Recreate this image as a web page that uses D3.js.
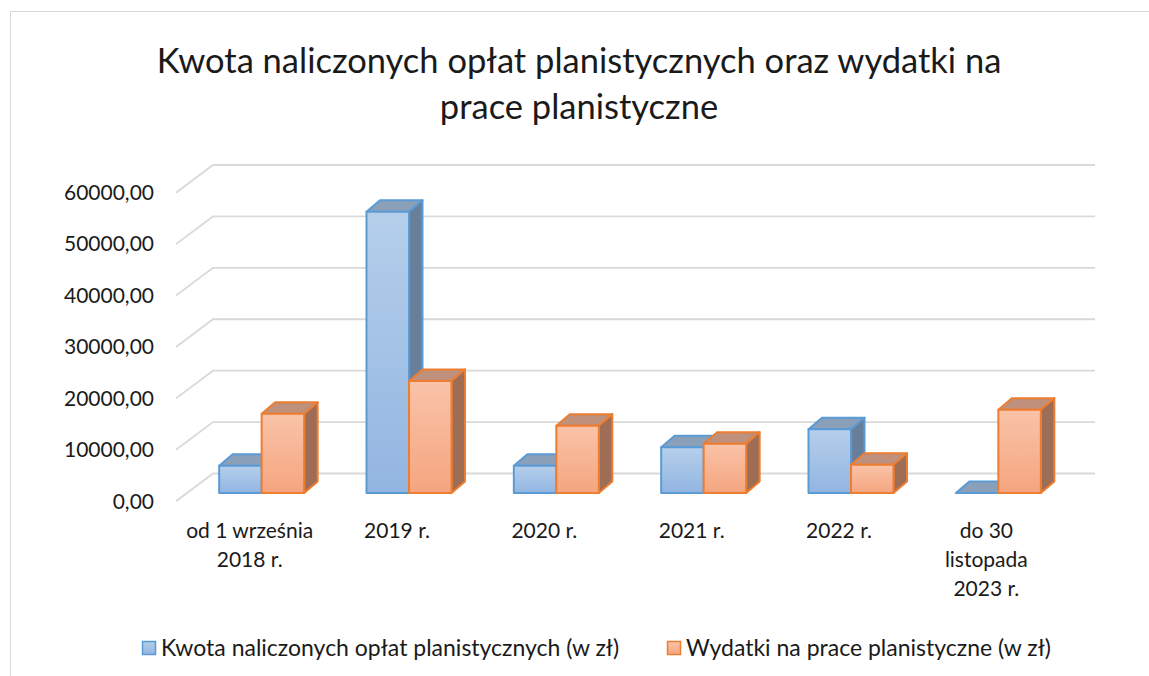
<!DOCTYPE html>
<html lang="pl">
    <head>
        <meta charset="UTF-8" />
        <title>Opłaty planistyczne</title>
        <script src="https://d3js.org/d3.v7.js"></script>
    </head>

    <body>
        <div id="dataviz"></div>
    </body>

    <script>
        // data
        const categories = ["od 1 września 2018 r.", "2019 r.", "2020 r.", "2021 r.", "2022 r.", "do 30 listopada 2023 r."];
        const categoryLines = [["od 1 września", "2018 r."], ["2019 r."], ["2020 r."], ["2021 r."], ["2022 r."], ["do 30", "listopada", "2023 r."]];
        const seriesNames = ["Kwota naliczonych opłat planistycznych (w zł)", "Wydatki na prace planistyczne (w zł)"];
        const kwota = [5300, 54700, 5300, 8900, 12400, 0];
        const wydatki = [15400, 21800, 13100, 9600, 5500, 16200];
        const yTicks = [0, 10000, 20000, 30000, 40000, 50000, 60000];

        const width = 1149, height = 676;
        const font = "Lato, 'Open Sans', sans-serif";

        const svg = d3.select("#dataviz")
            .append("svg")
            .attr("width", width)
            .attr("height", height);

        // outer frame of the chart area
        svg.append("rect")
            .attr("x", 10.5).attr("y", 11.5)
            .attr("width", 1200).attr("height", 700)
            .attr("fill", "white")
            .attr("stroke", "#d9d9d9");

        const defs = svg.append("defs");
        const colors = [
            {front: ["#b5cfeb", "#92b5e1"], stroke: "#5b9bd5", top: "#8a9fb8", side: "#687f9b"},
            {front: ["#f9c3a8", "#f5a57f"], stroke: "#ed7d31", top: "#bf917d", side: "#9d6d56"}
        ];
        colors.forEach((c, i) => {
            const g = defs.append("linearGradient")
                .attr("id", "grad" + i)
                .attr("x1", 0).attr("y1", 0).attr("x2", 0).attr("y2", 1);
            g.append("stop").attr("offset", "0%").attr("stop-color", c.front[0]);
            g.append("stop").attr("offset", "100%").attr("stop-color", c.front[1]);
        });

        // 3d geometry: back wall and bar plane
        const wallDx = 37, wallDy = 27.7;
        const barDx = 13.5, barDy = 11.5;

        const yBack = d3.scaleLinear().domain([0, 60000]).range([473.5, 165]);
        const yBar = d3.scaleLinear().domain([0, 60000]).range([493, 184.5]);

        const x0 = d3.scaleBand()
            .domain(categories)
            .range([188, 1072]);
        const x1 = d3.scaleBand()
            .domain([0, 1])
            .range([0, 85]);
        const groupOffset = (x0.bandwidth() - 85) / 2;

        const fmt = d3.formatLocale({decimal: ",", thousands: "", grouping: [3], currency: ["", " zł"]}).format(".2f");

        // gridlines: side wall diagonal + back wall
        svg.append("g")
            .selectAll("path")
            .data(yTicks)
            .join("path")
            .attr("d", d => `M176,${yBack(d) + wallDy} L${176 + wallDx},${yBack(d)} L1095,${yBack(d)}`)
            .attr("fill", "none")
            .attr("stroke", "#d9d9d9")
            .attr("stroke-width", 1.8);

        // y labels
        svg.append("g")
            .selectAll("text")
            .data(yTicks)
            .join("text")
            .attr("x", 154)
            .attr("y", d => yBack(d) + wallDy + 2)
            .attr("text-anchor", "end")
            .attr("dominant-baseline", "middle")
            .style("font-family", font)
            .style("font-size", "21px")
            .attr("fill", "#1a1a1a")
            .text(d => fmt(d));

        // bars
        const bars = [];
        categories.forEach((c, i) => {
            [kwota[i], wydatki[i]].forEach((v, s) => bars.push({cat: c, s: s, v: v}));
        });

        const barG = svg.append("g");
        bars.forEach(b => {
            const xl = x0(b.cat) + groupOffset + x1(b.s);
            const xr = xl + x1.bandwidth();
            const yt = yBar(b.v), yb = yBar(0);
            const c = colors[b.s];
            const g = barG.append("g")
                .attr("stroke", c.stroke)
                .attr("stroke-width", 2)
                .attr("stroke-linejoin", "round");
            g.append("path")
                .attr("d", `M${xl},${yt} L${xl + barDx},${yt - barDy} L${xr + barDx},${yt - barDy} L${xr},${yt} Z`)
                .attr("fill", c.top);
            g.append("path")
                .attr("d", `M${xr},${yt} L${xr + barDx},${yt - barDy} L${xr + barDx},${yb - barDy} L${xr},${yb} Z`)
                .attr("fill", c.side);
            if (b.v > 0) {
                g.append("rect")
                    .attr("x", xl).attr("y", yt)
                    .attr("width", xr - xl).attr("height", yb - yt)
                    .attr("fill", `url(#grad${b.s})`);
            }
        });

        // category labels
        const labelShift = -12;
        svg.append("g")
            .selectAll("text")
            .data(categories)
            .join("text")
            .attr("text-anchor", "middle")
            .style("font-family", font)
            .style("font-size", "21px")
            .attr("fill", "#1a1a1a")
            .each(function(d, i) {
                d3.select(this).selectAll("tspan")
                    .data(categoryLines[i])
                    .join("tspan")
                    .attr("x", x0(d) + x0.bandwidth() / 2 + labelShift)
                    .attr("y", (t, j) => 538 + j * 29)
                    .text(t => t);
            });

        // title
        svg.append("text")
            .attr("text-anchor", "middle")
            .style("font-family", font)
            .style("font-size", "34.5px")
            .attr("fill", "#1a1a1a")
            .selectAll("tspan")
            .data(["Kwota naliczonych opłat planistycznych oraz wydatki na", "prace planistyczne"])
            .join("tspan")
            .attr("x", 579)
            .attr("y", (d, i) => 73 + i * 46)
            .text(d => d);

        // legend
        const legendX = [142, 667];
        const legend = svg.append("g")
            .selectAll("g")
            .data(seriesNames)
            .join("g")
            .attr("transform", (d, i) => `translate(${legendX[i]},641)`);
        legend.append("rect")
            .attr("x", 0.5).attr("y", 0.5)
            .attr("width", 13).attr("height", 13)
            .attr("fill", (d, i) => `url(#grad${i})`)
            .attr("stroke", (d, i) => colors[i].stroke)
            .attr("stroke-width", 1.5);
        legend.append("text")
            .attr("x", 19)
            .attr("y", 14.5)
            .style("font-family", font)
            .style("font-size", "23px")
            .attr("fill", "#1a1a1a")
            .text(d => d);
    </script>

    <style>
        body {
            margin: 0;
        }

        svg {
            display: block;
        }
    </style>
</html>
